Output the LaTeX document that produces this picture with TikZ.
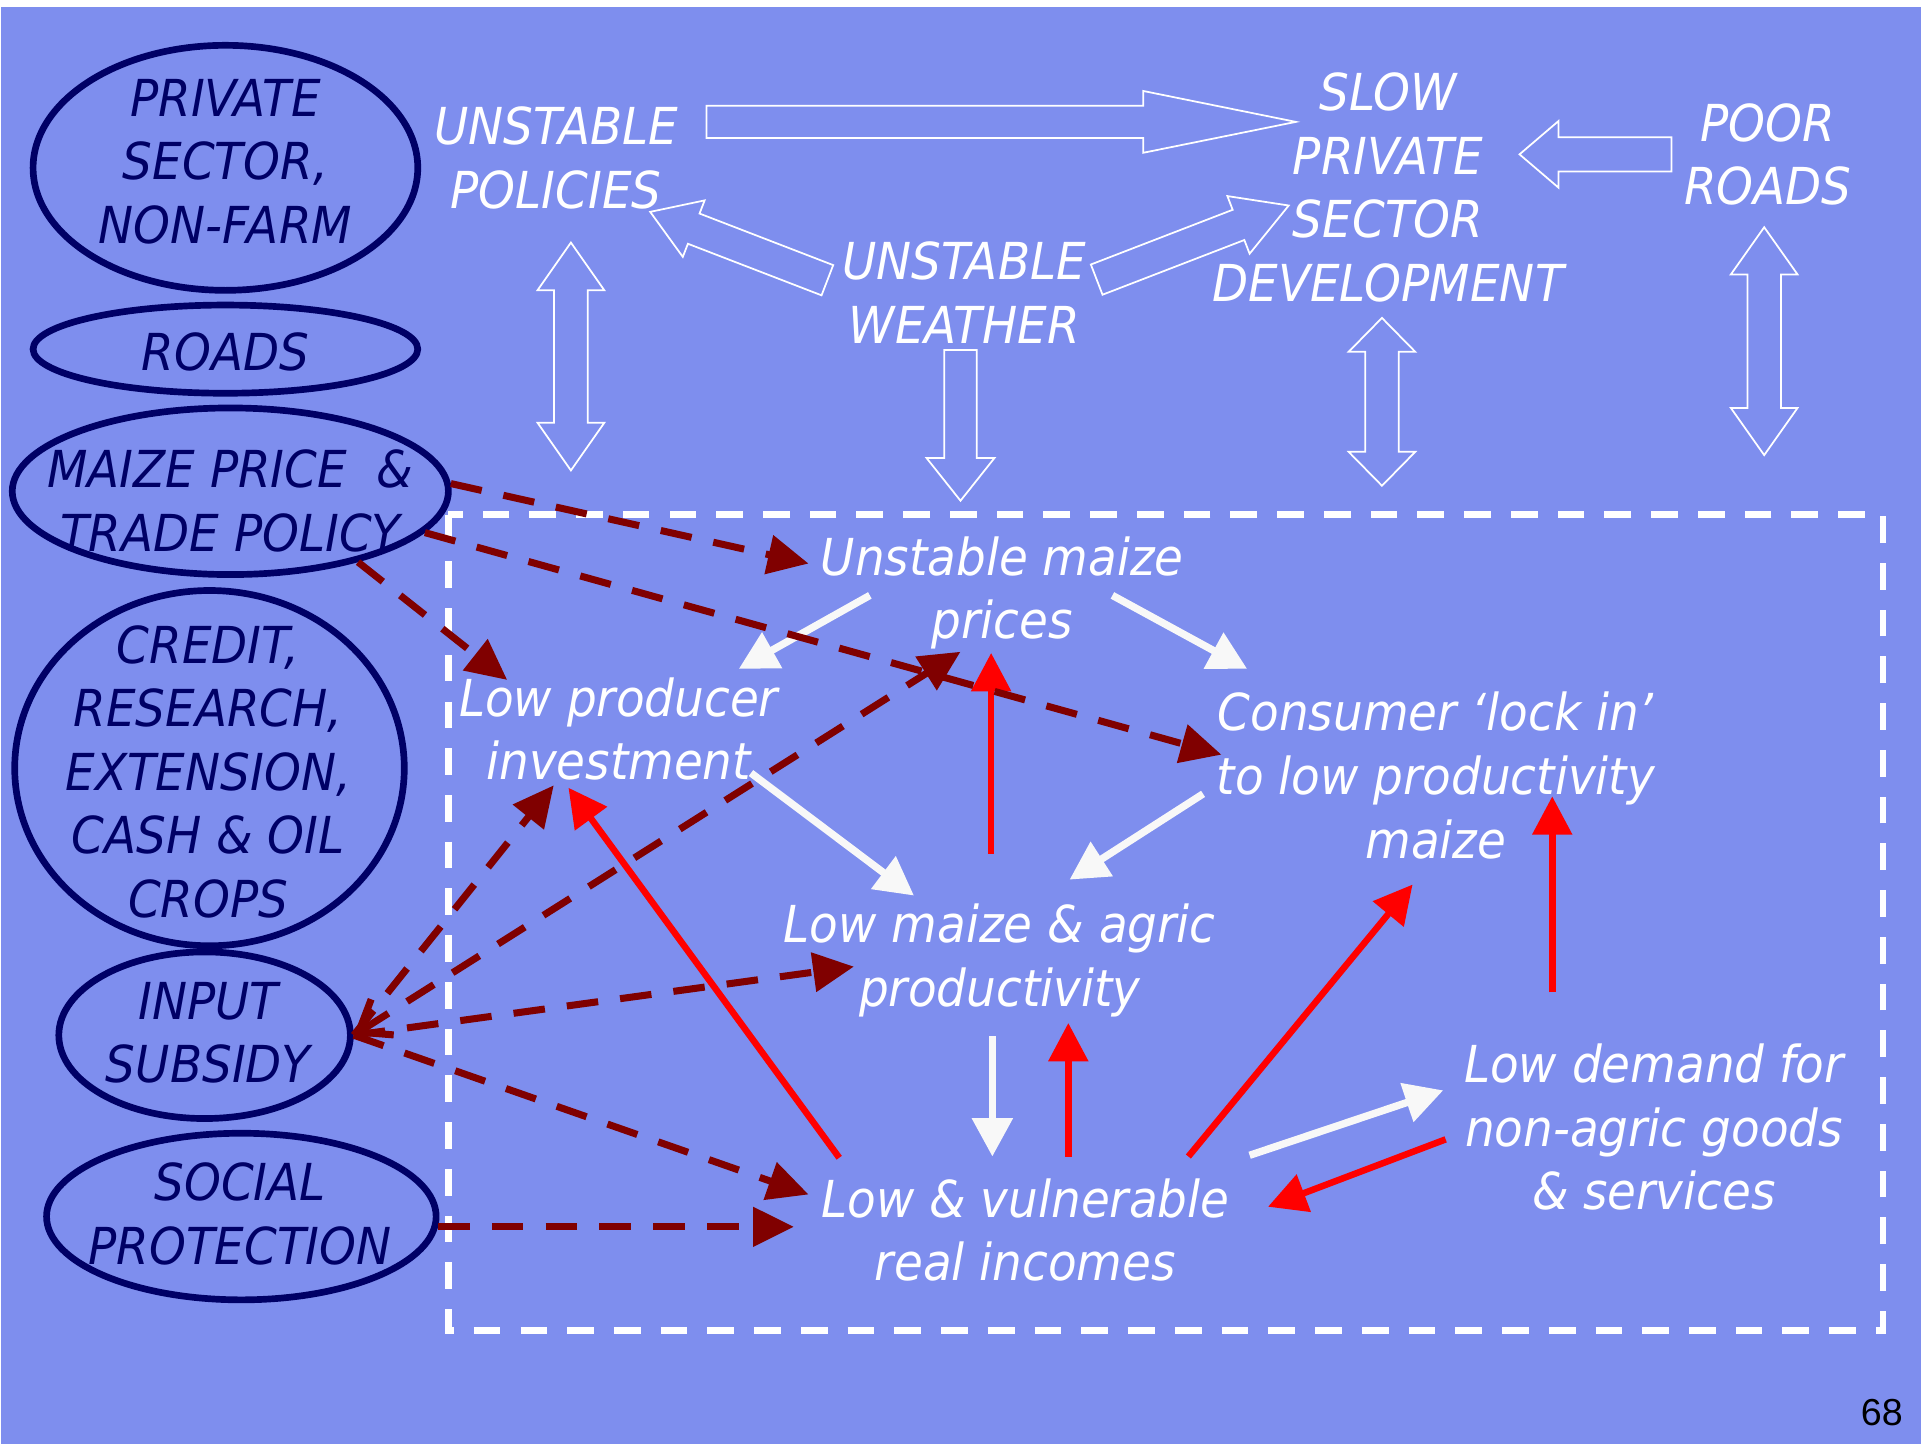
\documentclass[tikz,border=0pt]{standalone}
\usepackage{fontspec}
\setmainfont{DejaVu Sans}[FakeStretch=0.92]
\newfontfamily\pagefont{Liberation Sans}
\usetikzlibrary{shapes.geometric,shapes.arrows,arrows.meta,calc}

\definecolor{slideblue}{RGB}{126,142,238}
\definecolor{navy}{RGB}{0,0,102}
\definecolor{darkred}{RGB}{128,0,0}
\definecolor{offwhite}{RGB}{248,248,248}

\newcommand{\unitpx}{0.012251cm}

\tikzset{
	policy/.style={ellipse, draw=navy, line width=1.9pt, inner sep=0pt},
	policytext/.style={text=navy, font=\itshape\fontsize{14.5}{18.1}\selectfont, align=center, inner sep=0pt},
	issue/.style={text=white, font=\itshape\fontsize{14.5}{18.1}\selectfont, align=center, inner sep=0pt},
	blockarrow/.style={single arrow, draw=white, line width=0.5pt, inner xsep=0pt, inner ysep=12.5*\unitpx, single arrow head indent=0pt, anchor=tail},
	dblarrow/.style={double arrow, draw=white, line width=0.5pt, inner xsep=0pt, inner ysep=13*\unitpx, double arrow head indent=0pt, rotate=90, double arrow head extend=13.5*\unitpx},
	whitelink/.style={draw=offwhite, line width=2.1pt, -{Triangle[length=10.9pt,width=11.2pt]}},
	redlink/.style={draw=red, line width=1.85pt, -{Triangle[length=10.9pt,width=11pt]}},
	policylink/.style={draw=darkred, line width=2pt, dash pattern=on 9pt off 6.3pt, -{Triangle[length=11.6pt,width=10.9pt]}},
	twowaylink/.style={policylink, {Straight Barb[length=8pt,width=12pt]}-{Triangle[length=11.6pt,width=10.9pt]}}
}

\begin{document}
\begin{tikzpicture}[x=0.012251cm, y=-0.012251cm]
	\useasboundingbox (0,0) rectangle (1568,1179);
	\fill[white] (0,0) rectangle (1568,1179);
	\fill[slideblue] (1,6) rectangle (1568,1179);

	% policy levers
	\node[policy, minimum width=314*\unitpx, minimum height=200*\unitpx] (private) at (184,137) {};
	\node[policytext] (privatetext) at (184,132) {PRIVATE\\SECTOR,\\NON-FARM};
	\node[policy, minimum width=314*\unitpx, minimum height=72*\unitpx] (roads) at (184,285) {};
	\node[policytext] (roadstext) at (184,287) {ROADS};
	\node[policy, minimum width=356*\unitpx, minimum height=136*\unitpx] (maize) at (188,401) {};
	\node[policytext] (maizetext) at (188,409) {MAIZE PRICE\ \ \&\\TRADE POLICY};
	\node[policy, minimum width=318*\unitpx, minimum height=290*\unitpx] (credit) at (171,627) {};
	\node[policytext] (credittext) at (170,630) {CREDIT,\\RESEARCH,\\EXTENSION,\\CASH \& OIL\\CROPS};
	\node[policy, minimum width=238*\unitpx, minimum height=136*\unitpx] (subsidy) at (167,845) {};
	\node[policytext] (subsidytext) at (170,843) {INPUT\\SUBSIDY};
	\node[policy, minimum width=318*\unitpx, minimum height=136*\unitpx] (social) at (197,993) {};
	\node[policytext] (socialtext) at (196,991) {SOCIAL\\PROTECTION};

	% outer constraints
	\node[issue] (policies) at (454,129) {UNSTABLE\\POLICIES};
	\node[issue] (weather) at (787,239) {UNSTABLE\\WEATHER};
	\node[issue] (slow) at (1133,153) {SLOW\\PRIVATE\\SECTOR\\DEVELOPMENT};
	\node[issue] (poorroads) at (1443,126) {POOR\\ROADS};

	\node[blockarrow, minimum height=481*\unitpx, single arrow head extend=12*\unitpx, single arrow tip angle=22.9] (policiestoslow) at (576,99.5) {};
	\node[blockarrow, rotate=180, inner ysep=13.25*\unitpx, minimum height=124*\unitpx, single arrow head extend=13.25*\unitpx, single arrow tip angle=81] (roadstoslow) at (1365,126) {};
	\node[blockarrow, rotate=158.9, minimum height=155*\unitpx, single arrow head extend=11.5*\unitpx, single arrow tip angle=66] (weathertopolicies) at (676,229) {};
	\node[blockarrow, rotate=21.1, minimum height=168*\unitpx, single arrow head extend=12*\unitpx, single arrow tip angle=59.7] (weathertoslow) at (894.5,228.5) {};
	\node[blockarrow, rotate=-90, minimum height=123*\unitpx, single arrow head extend=14.5*\unitpx, single arrow tip angle=77] (weatherdown) at (784,285) {};
	\node[dblarrow, minimum height=186*\unitpx, double arrow tip angle=70] (policiesdown) at (466,291) {};
	\node[dblarrow, minimum height=137*\unitpx, double arrow tip angle=89] (slowdown) at (1128,328) {};
	\node[dblarrow, minimum height=186*\unitpx, double arrow tip angle=70.5] (poorroadsdown) at (1440,278.5) {};

	% the maize trap
	\draw[white, line width=1.9pt, dash pattern=on 7.6pt off 5.7pt] (366,420) rectangle (1537,1086);

	\node[issue] (prices) at (818,484) {Unstable maize\\prices};
	\node[issue] (producer) at (505,595) {Low producer\\investment};
	\node[issue] (consumer) at (1172,633) {Consumer ‘lock in’\\to low productivity\\maize};
	\node[issue] (lowmaize) at (816,784) {Low maize \& agric\\productivity};
	\node[issue] (demand) at (1350,920) {Low demand for\\non-agric goods\\\& services};
	\node[issue] (vuln) at (837,1004) {Low \& vulnerable\\real incomes};

	\draw[whitelink] ($(prices)+(-108,2)$) -- ($(producer)+(98,-49)$);
	\draw[whitelink] ($(prices)+(90,2)$) -- ($(consumer)+(-154,-87)$);
	\draw[whitelink] ($(producer)+(108,36)$) -- ($(lowmaize)+(-70,-53)$);
	\draw[whitelink] ($(consumer)+(-190,15)$) -- ($(lowmaize)+(57,-66)$);
	\draw[whitelink] ($(lowmaize)+(-6,62)$) -- ($(vuln)+(-27,-60)$);
	\draw[whitelink] ($(vuln)+(183,-61)$) -- ($(demand)+(-172,-30)$);

	\draw[redlink] ($(lowmaize)+(-7,-87)$) -- ($(prices)+(-9,49)$);
	\draw[redlink] ($(vuln)+(-152,-59)$) -- ($(producer)+(-41,48)$);
	\draw[redlink] ($(vuln)+(35,-60)$) -- ($(lowmaize)+(56,51)$);
	\draw[redlink] ($(vuln)+(133,-60)$) -- ($(consumer)+(-19,89)$);
	\draw[redlink] ($(demand)+(-83,-110)$) -- ($(consumer)+(95,17)$);
	\draw[redlink] ($(demand)+(-170,10)$) -- ($(vuln)+(198,-19)$);

	\coordinate (socialtip) at ($(vuln)+(-189,-5)$);
	\draw[policylink] (maize.2) -- ($(prices)+(-158,-24)$);
	\draw[policylink] (maize.-12) -- ($(consumer)+(-175,-17)$);
	\draw[policylink] (maize.-29) -- ($(producer)+(-91,-40)$);
	\draw[twowaylink] (subsidy.east) -- ($(prices)+(-34,48)$);
	\draw[policylink] (subsidy.east) -- ($(producer)+(-53,46)$);
	\draw[policylink] (subsidy.east) -- ($(lowmaize)+(-119,5)$);
	\draw[policylink] (subsidy.east) -- ($(vuln)+(-177,-29)$);
	\draw[policylink] (social.-3) -- (social.-3 -| socialtip);

	\node[font=\pagefont\fontsize{10.7}{12}\selectfont] (pagenum) at (1536,1153) {68};
\end{tikzpicture}
\end{document}
